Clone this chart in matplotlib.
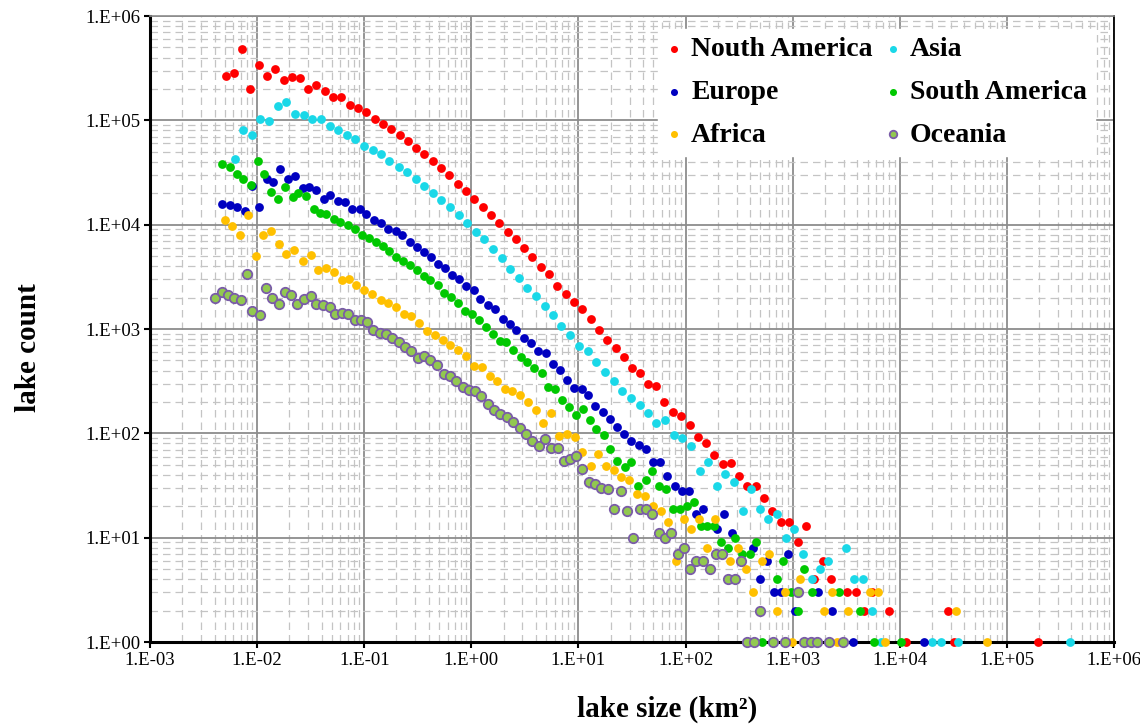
import numpy as np
import matplotlib
matplotlib.use("Agg")
import matplotlib.pyplot as plt
from matplotlib.ticker import LogLocator, FuncFormatter, NullFormatter

# lake size (km2) / lake count per size bin
na_size = [0.0051, 0.00606, 0.00729, 0.00866, 0.0104, 0.0124, 0.0148, 0.0179, 0.0212, 0.0251,
           0.0300, 0.0356, 0.0426, 0.0510, 0.0610, 0.0729, 0.0873, 0.104, 0.125, 0.150,
           0.179, 0.214, 0.254, 0.304, 0.364, 0.435, 0.521, 0.623, 0.745, 0.892,
           1.07, 1.28, 1.53, 1.83, 2.18, 2.61, 3.11, 3.72, 4.44, 5.32,
           6.36, 7.61, 9.08, 10.9, 13.0, 15.5, 18.6, 22.3, 26.5, 31.3,
           37.4, 44.4, 52.8, 63.4, 75.9, 91.2, 109, 130, 156, 186,
           222, 265, 318, 378, 454, 542, 648, 776, 928, 1110,
           1320, 1580, 1900, 2270, 3240, 3880, 4640, 5560, 7940, 11400,
           27900, 32200, 194000]
na_count = [264000, 284000, 487000, 198000, 337000, 264000, 313000, 246000, 260000, 257000,
            201000, 217000, 191000, 166000, 167000, 139000, 132000, 120000, 104000, 93000,
            83200, 71800, 63300, 54700, 47200, 40700, 34900, 29700, 24700, 21000,
            17500, 14800, 12400, 10400, 8590, 7230, 5930, 4890, 3920, 3340,
            2580, 2150, 1810, 1570, 1260, 970, 791, 655, 538, 426,
            378, 299, 284, 201, 161, 147, 120, 93, 80, 62,
            51, 52, 39, 31, 31, 24, 18, 14, 14, 9,
            13, 4, 6, 4, 3, 3, 2, 3, 2, 1,
            2, 1, 1]

as_size = [0.00619, 0.0074, 0.00898, 0.0107, 0.0130, 0.0156, 0.0188, 0.0225, 0.0273, 0.0327,
           0.0391, 0.0478, 0.0571, 0.0694, 0.0824, 0.0985, 0.120, 0.144, 0.172, 0.209,
           0.251, 0.301, 0.364, 0.435, 0.522, 0.632, 0.759, 0.914, 1.11, 1.32,
           1.60, 1.92, 2.30, 2.77, 3.32, 3.99, 4.83, 5.80, 6.94, 8.42,
           10.2, 12.2, 14.7, 17.6, 21.4, 25.6, 30.8, 37.2, 44.6, 53.4,
           64.5, 77.2, 92.7, 113, 136, 163, 196, 235, 283, 341,
           407, 494, 593, 709, 860, 1030, 1250, 1500, 1790, 2140,
           3130, 3740, 4540, 5470, 6640, 20200, 24200, 34600, 391000]
as_count = [42900, 80200, 71800, 104000, 98500, 136000, 151000, 114000, 112000, 102000,
            102000, 87600, 80200, 71800, 65700, 56700, 51600, 47200, 40700, 35700,
            31700, 27200, 23700, 20300, 17400, 14700, 12300, 10400, 8570, 7230,
            5800, 4830, 3790, 3100, 2470, 2050, 1680, 1350, 1060, 884,
            692, 614, 482, 386, 318, 254, 219, 186, 155, 127,
            134, 96, 91, 75, 44, 53, 31, 41, 34, 18,
            29, 19, 15, 17, 10, 12, 7, 4, 5, 6,
            8, 4, 4, 2, 1, 1, 1, 1, 1]

eu_size = [0.00474, 0.00559, 0.00655, 0.00773, 0.00892, 0.0104, 0.0123, 0.0142, 0.0164, 0.0194,
           0.0227, 0.0268, 0.0306, 0.0356, 0.0420, 0.0484, 0.0568, 0.0655, 0.0773, 0.0904,
           0.104, 0.123, 0.144, 0.168, 0.196, 0.226, 0.265, 0.311, 0.358, 0.420,
           0.488, 0.572, 0.665, 0.773, 0.898, 1.05, 1.21, 1.43, 1.68, 1.97,
           2.30, 2.63, 3.08, 3.61, 4.23, 4.95, 5.75, 6.69, 7.84, 9.12,
           10.7, 12.3, 14.4, 16.8, 19.6, 22.8, 26.6, 31.2, 36.4, 42.3,
           49.2, 57.4, 67.5, 78.9, 91.8, 107, 124, 144, 196, 230,
           270, 423, 495, 580, 669, 786, 913, 1060, 1710, 2310,
           3680, 16900]
eu_count = [15700, 15300, 14800, 13500, 23400, 14800, 27200, 25600, 33900, 27200,
            29000, 22600, 22900, 21300, 17500, 19100, 16800, 16500, 14200, 14000,
            12600, 11000, 10400, 9160, 8630, 7890, 6810, 6100, 5460, 4890,
            4230, 3840, 3270, 3030, 2560, 2340, 1950, 1710, 1540, 1260,
            1120, 970, 827, 732, 614, 583, 465, 401, 326, 275,
            269, 231, 181, 161, 137, 114, 98, 84, 78, 71,
            53, 53, 39, 31, 28, 28, 17, 19, 12, 17,
            11, 8, 4, 6, 3, 3, 7, 2, 3, 2,
            1, 1]

sa_size = [0.00474, 0.00559, 0.00646, 0.00745, 0.00873, 0.0101, 0.0117, 0.0136, 0.0158, 0.0183,
           0.0214, 0.0243, 0.0285, 0.0336, 0.0386, 0.0441, 0.0521, 0.0600, 0.0698, 0.0812,
           0.0952, 0.110, 0.128, 0.150, 0.171, 0.199, 0.230, 0.265, 0.311, 0.358,
           0.414, 0.484, 0.559, 0.646, 0.751, 0.879, 1.02, 1.18, 1.37, 1.58,
           1.84, 2.12, 2.45, 2.89, 3.34, 3.88, 4.54, 5.24, 6.10, 7.09,
           8.19, 9.54, 11.1, 12.8, 14.7, 17.2, 19.9, 23.1, 27.0, 31.1,
           36.0, 42.3, 48.9, 56.3, 66.2, 76.4, 88.4, 103, 119, 138,
           160, 184, 214, 251, 291, 339, 398, 456, 522, 709,
           819, 958, 1110, 1280, 1510, 2710, 4210, 5750, 10200]
sa_count = [38400, 35700, 30800, 27200, 23800, 40700, 30800, 20500, 17700, 22900,
            18400, 20100, 18800, 14200, 13000, 12600, 11400, 10600, 10000, 9020,
            8020, 7500, 6840, 6240, 5580, 4890, 4480, 4070, 3650, 3210,
            2920, 2620, 2230, 2020, 1770, 1490, 1400, 1210, 1040, 888,
            760, 748, 624, 538, 486, 421, 375, 280, 268, 211,
            179, 149, 172, 135, 110, 97, 71, 54, 48, 53,
            31, 36, 44, 31, 29, 19, 19, 20, 22, 13,
            13, 13, 9, 8, 10, 7, 7, 9, 1, 4,
            6, 3, 2, 5, 3, 3, 2, 1, 1]

af_size = [0.00499, 0.00588, 0.00694, 0.00819, 0.00979, 0.0113, 0.0134, 0.0161, 0.0188, 0.0223,
           0.0268, 0.0318, 0.0369, 0.0439, 0.0521, 0.0619, 0.0724, 0.0842, 0.100, 0.119,
           0.144, 0.168, 0.198, 0.234, 0.273, 0.325, 0.386, 0.454, 0.542, 0.631,
           0.751, 0.892, 1.05, 1.25, 1.48, 1.74, 2.05, 2.42, 2.83, 3.39,
           3.98, 4.71, 5.57, 6.64, 7.86, 9.22, 10.9, 13.0, 15.3, 18.1,
           21.4, 25.2, 29.8, 35.2, 41.4, 49.5, 58.4, 68.6, 81.5, 95.8,
           113, 134, 159, 187, 259, 312, 365, 430, 513, 607,
           709, 842, 996, 1170, 1960, 2310, 2620, 3250, 5270, 6300,
           7320, 33500, 65000]
af_count = [11200, 9630, 7890, 12300, 4970, 7890, 8680, 6580, 5190, 5670,
            4450, 5160, 3650, 3870, 3490, 2920, 3010, 2620, 2340, 2160,
            1900, 1790, 1640, 1400, 1330, 1130, 963, 868, 784, 696,
            624, 548, 440, 428, 353, 317, 269, 255, 231, 199,
            169, 127, 156, 95, 98, 93, 67, 49, 63, 49,
            45, 38, 36, 26, 25, 20, 18, 14, 6, 15,
            12, 15, 8, 15, 6, 8, 5, 3, 6, 7,
            2, 3, 1, 4, 2, 3, 1, 2, 3, 3,
            1, 2, 1]

oc_size = [0.00405, 0.00468, 0.00536, 0.00614, 0.00704, 0.00801, 0.00904, 0.0106, 0.0121, 0.0138,
           0.0160, 0.0183, 0.0208, 0.0236, 0.0275, 0.0318, 0.0356, 0.0411, 0.0474, 0.0539,
           0.0619, 0.0709, 0.0812, 0.0932, 0.107, 0.122, 0.140, 0.159, 0.182, 0.209,
           0.242, 0.275, 0.316, 0.361, 0.414, 0.476, 0.551, 0.627, 0.721, 0.828,
           0.948, 1.09, 1.24, 1.42, 1.63, 1.87, 2.15, 2.46, 2.82, 3.25,
           3.70, 4.26, 4.84, 5.56, 6.41, 7.32, 8.33, 9.58, 10.8, 12.6,
           14.4, 16.4, 19.0, 21.4, 24.7, 28.5, 32.5, 37.4, 42.5, 48.9,
           56.3, 63.9, 73.5, 84.6, 96.4, 111, 126, 146, 168, 191,
           219, 251, 287, 330, 374, 435, 495, 650, 847, 1110,
           1280, 1470, 1680, 2180, 2930]
oc_count = [1980, 2260, 2100, 2000, 1880, 3390, 1490, 1370, 2470, 1980,
            1750, 2260, 2100, 1750, 1920, 2050, 1720, 1710, 1620, 1400,
            1430, 1380, 1210, 1210, 1180, 970, 921, 901, 812, 744,
            676, 620, 532, 555, 509, 448, 367, 356, 316, 280,
            260, 253, 227, 192, 169, 153, 143, 128, 112, 98,
            85, 76, 89, 72, 72, 54, 57, 61, 46, 34,
            33, 30, 29, 19, 28, 18, 10, 19, 19, 17,
            11, 10, 11, 7, 8, 5, 6, 6, 5, 7,
            7, 4, 4, 6, 1, 1, 2, 1, 1, 3,
            1, 1, 1, 1, 1]

labels = ["Nouth America", "Asia", "Europe", "South America", "Africa", "Oceania"]
sizes = [na_size, as_size, eu_size, sa_size, af_size, oc_size]
counts = [na_count, as_count, eu_count, sa_count, af_count, oc_count]
colors = ["#FF0000", "#1AD8E8", "#0000C0", "#00C800", "#FFC000", "#92C850"]

plt.rcParams['font.family'] = ['Liberation Serif', 'DejaVu Serif']

fig = plt.figure(figsize=(11.4, 7.28), dpi=100)
ax = fig.add_axes([0.1316, 0.1181, 0.8456, 0.8599])

handles = {}
for lab, xs, ys, col in zip(labels, sizes, counts, colors):
    if lab == "Oceania":
        h = ax.scatter(xs, ys, s=46, c=col, edgecolors="#7A5CA8", linewidths=1.3,
                       clip_on=False, zorder=3)
    else:
        h = ax.scatter(xs, ys, s=40, c=col, linewidths=0, clip_on=False, zorder=3)
    handles[lab] = h

ax.set_xscale("log")
ax.set_yscale("log")
ax.set_xlim(1e-3, 1e6)
ax.set_ylim(1, 1e6)

fmt = FuncFormatter(lambda v, p: "1.E%+03d" % int(round(np.log10(v))))
for axis in (ax.xaxis, ax.yaxis):
    axis.set_major_locator(LogLocator(base=10, numticks=20))
    axis.set_minor_locator(LogLocator(base=10, subs=np.arange(2, 10), numticks=200))
    axis.set_major_formatter(fmt)
    axis.set_minor_formatter(NullFormatter())

ax.set_axisbelow(True)
ax.grid(which="major", color="#8C8C8C", linewidth=1.3, linestyle="-")
ax.grid(which="minor", color="#C4C4C4", linewidth=0.9, linestyle=(0, (6, 4)))

ax.tick_params(which="major", direction="out", length=4, width=1.5, labelsize=13.5, pad=3, color="black")
ax.tick_params(which="minor", length=0)

for side in ("left", "bottom"):
    ax.spines[side].set_linewidth(2.2)
    ax.spines[side].set_color("black")
ax.spines["right"].set_linewidth(1.3)
ax.spines["right"].set_color("black")
ax.spines["top"].set_linewidth(1.2)
ax.spines["top"].set_color("#8C8C8C")

ax.set_xlabel("lake size (km²)", fontsize=21, fontweight="bold")
ax.set_ylabel("lake count", fontsize=21, fontweight="bold")
ax.xaxis.set_label_coords(0.536, -0.085)
ax.yaxis.set_label_coords(-0.112, 0.471)

order = ["Nouth America", "Europe", "Africa", "Asia", "South America", "Oceania"]
leg = ax.legend([handles[k] for k in order], order, ncol=2, loc="upper right",
                bbox_to_anchor=(0.995, 1.002), frameon=True, fancybox=False,
                framealpha=1, edgecolor="white", markerscale=0.8,
                prop={"weight": "bold", "size": 20}, handlelength=0.6,
                handletextpad=0.3, columnspacing=0.45, labelspacing=0.62,
                borderpad=0.3)
leg.set_zorder(5)

fig.savefig("out.png", dpi=100)
